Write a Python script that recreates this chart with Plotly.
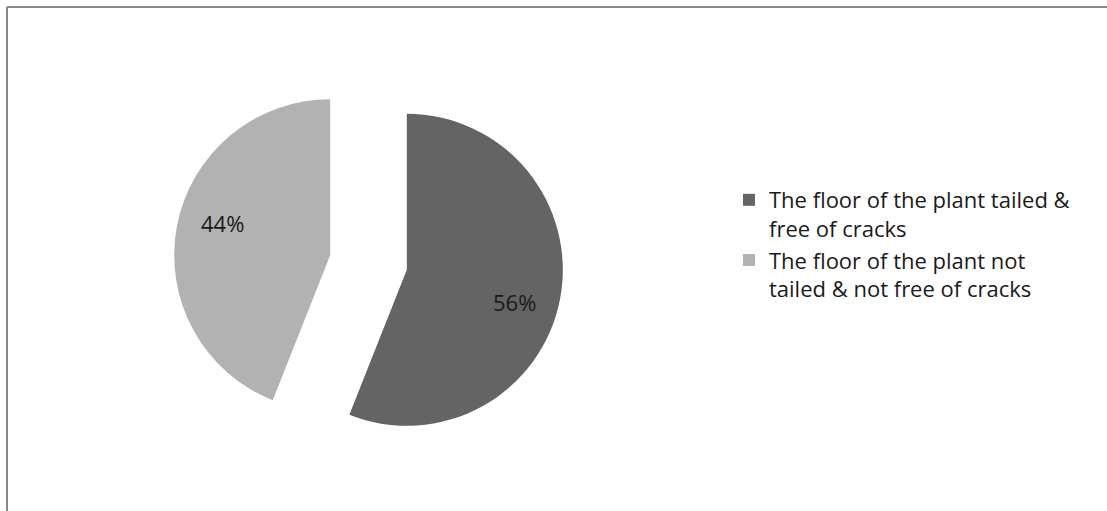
import math
import plotly.graph_objects as go

# Survey result: condition of the plant floor
labels = [
    "The floor of the plant tailed &<br>free of cracks",
    "The floor of the plant not<br>tailed & not free of cracks",
]
values = [56, 44]
colors = ["#646464", "#b2b2b2"]

W, H = 1107, 511
FONT = "'Open Sans', sans-serif"

# pie placement (pixels): centre, radius and slice pull
CX, CY, R, PULL = 368.5, 262.5, 156.0, 0.25
BOX = 2 * R * (1 + PULL)

fig = go.Figure(
    go.Pie(
        labels=labels,
        values=values,
        sort=False,
        direction="clockwise",
        rotation=0,
        pull=[PULL] * len(values),
        marker=dict(colors=colors, line=dict(width=0)),
        textinfo="none",
        domain=dict(x=[(CX - BOX / 2) / W, (CX + BOX / 2) / W],
                    y=[(H - CY - BOX / 2) / H, (H - CY + BOX / 2) / H]),
        hoverinfo="label+percent",
    )
)

# percentage labels, placed inside each (pulled) slice
total = sum(values)
start = 0.0
for v in values:
    frac = v / total
    mid = 2 * math.pi * (start + frac / 2)
    start += frac
    vx = CX + PULL * R * math.sin(mid)
    vy = CY - PULL * R * math.cos(mid)
    a = mid + math.radians(6)
    lx = vx + 0.72 * R * math.sin(a)
    ly = vy - 0.72 * R * math.cos(a)
    fig.add_annotation(
        x=lx / W, y=1 - ly / H, xref="paper", yref="paper",
        text=f"{round(frac * 100)}%", showarrow=False,
        xanchor="center", yanchor="middle",
        font=dict(family=FONT, size=22, color="#1a1a1a"),
    )

# chart frame (top and left edges)
frame = dict(color="#878787", width=2)
fig.add_shape(type="line", xref="paper", yref="paper",
              x0=7 / W, y0=0, x1=7 / W, y1=1 - 7 / H, line=frame)
fig.add_shape(type="line", xref="paper", yref="paper",
              x0=7 / W, y0=1 - 7 / H, x1=1, y1=1 - 7 / H, line=frame)

fig.update_layout(
    width=W,
    height=H,
    margin=dict(l=0, r=0, t=0, b=0),
    paper_bgcolor="white",
    plot_bgcolor="white",
    font=dict(family=FONT, color="#1a1a1a"),
    showlegend=True,
    legend=dict(
        x=729 / W,
        y=1 - 179 / H,
        xanchor="left",
        yanchor="top",
        valign="top",
        font=dict(family=FONT, size=22, color="#1a1a1a"),
        bgcolor="rgba(0,0,0,0)",
        tracegroupgap=0,
    ),
)

fig.write_html("out.html")
